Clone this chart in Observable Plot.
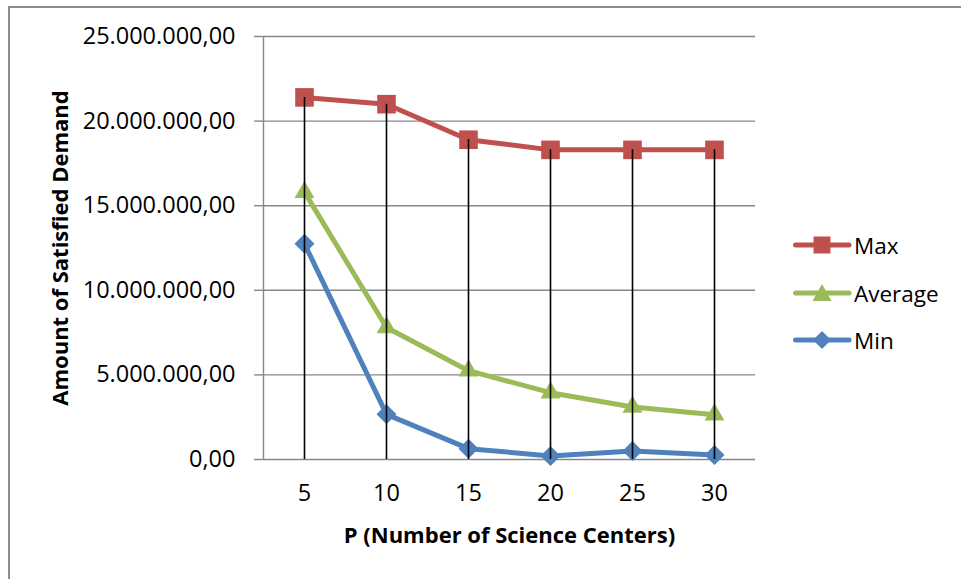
<!DOCTYPE html>
<html>
<head>
<meta charset="utf-8">
<script src="https://cdn.jsdelivr.net/npm/d3@7"></script>
<script src="https://cdn.jsdelivr.net/npm/@observablehq/plot@0.6"></script>
<style>
  html, body { margin: 0; padding: 0; background: white; }
  #wrap { position: relative; width: 961px; height: 579px; overflow: hidden; font-family: "Open Sans", sans-serif; }
  #border { position: absolute; left: 8px; top: 6px; width: 1000px; height: 1000px; border-top: 2px solid #8c8c8c; border-left: 2px solid #8c8c8c; pointer-events: none; }
  #legend { position: absolute; left: 793px; top: 0; }
  .row { position: absolute; left: 0; display: flex; align-items: center; height: 26px; white-space: nowrap; }
  .row span { font-size: 22.5px; margin-left: 2px; color: #000; }
</style>
</head>
<body>
<div id="wrap"></div>
<script>
const categories = [5, 10, 15, 20, 25, 30];
const maxValues = [21400000, 21000000, 18900000, 18300000, 18300000, 18300000];
const averageValues = [15800000, 7800000, 5250000, 3950000, 3100000, 2650000];
const minValues = [12750000, 2670000, 640000, 210000, 500000, 270000];
const yTicks = [0, 5000000, 10000000, 15000000, 20000000, 25000000];
const seriesNames = ["Max", "Average", "Min"];
const seriesColors = ["#C0504D", "#9BBB59", "#4F81BD"];
const seriesSymbols = ["square", "triangle", "diamond2"];
const seriesR = [10.5, 7.4, 9];
const xTitle = "P (Number of Science Centers)";
const yTitle = "Amount of Satisfied Demand";

const locale = d3.formatLocale({decimal: ",", thousands: ".", grouping: [3], currency: ["", ""]});
const fmt = locale.format(",.2f");

const seriesValues = [maxValues, averageValues, minValues];
const series = seriesNames.map((name, k) => categories.map((c, i) => ({P: c, value: seriesValues[k][i], name})));
const maxData = series[0];

const W = 961, H = 579, mL = 263, mR = 206, mT = 36, mB = 120;
const fw = W - mL - mR, fh = H - mT - mB;
const tickFont = 23.5, titleFont = 22;

const marks = [
  Plot.ruleY(yTicks, {stroke: "#878787", strokeWidth: 1.4}),
  Plot.frame({stroke: "#878787", strokeWidth: 1.4, strokeDasharray: `0,${2 * fw + fh},${fh}`}),
  Plot.axisY({ticks: yTicks, tickSize: 9, tickPadding: 19, tickFormat: fmt, stroke: "#878787", strokeWidth: 1.4, label: null, fontSize: tickFont}),
  Plot.axisX({tickSize: 0, tickPadding: 25, label: null, fontSize: tickFont})
];
[2, 1, 0].forEach(k => {
  marks.push(Plot.line(series[k], {x: "P", y: "value", stroke: seriesColors[k], strokeWidth: 5, strokeLinejoin: "round", strokeLinecap: "round"}));
  marks.push(Plot.dot(series[k], {x: "P", y: "value", symbol: () => seriesSymbols[k], fill: seriesColors[k], r: seriesR[k]}));
});
marks.push(Plot.ruleX(maxData, {x: "P", y1: 0, y2: "value", stroke: "#000", strokeWidth: 1.6}));
marks.push(Plot.text([xTitle], {frameAnchor: "bottom", dy: 76, text: d => d, fontWeight: "bold", fontSize: titleFont, lineAnchor: "middle", textAnchor: "middle"}));
marks.push(Plot.text([yTitle], {frameAnchor: "left", dx: -203, rotate: -90, text: d => d, fontWeight: "bold", fontSize: titleFont, lineAnchor: "middle", textAnchor: "middle"}));

const chart = Plot.plot({
  width: W, height: H,
  marginLeft: mL, marginRight: mR, marginTop: mT, marginBottom: mB,
  x: {type: "point", domain: categories, padding: 0.5, label: null},
  y: {type: "linear", domain: [0, 25000000], label: null},
  symbol: {type: "identity"},
  style: {fontFamily: "Open Sans, sans-serif", fontSize: tickFont + "px", background: "white", color: "#000", overflow: "visible"},
  marks
});
const wrap = document.getElementById("wrap");
chart.style.position = "absolute";
chart.style.left = "0";
chart.style.top = "0";
wrap.appendChild(chart);

const border = document.createElement("div");
border.id = "border";
wrap.appendChild(border);

const legend = document.createElement("div");
legend.id = "legend";
const rowY = [245, 293, 340];
seriesNames.forEach((name, k) => {
  const row = document.createElement("div");
  row.className = "row";
  row.style.top = (rowY[k] - 13) + "px";
  const c = seriesColors[k];
  let marker;
  if (k === 0) marker = `<rect x="20.5" y="4.5" width="17" height="17" fill="${c}"/>`;
  else if (k === 1) marker = `<path d="M29,4 L38.5,21 L19.5,21 Z" fill="${c}"/>`;
  else marker = `<path d="M29,4 L38,13 L29,22 L20,13 Z" fill="${c}"/>`;
  row.innerHTML = `<svg width="59" height="26"><line x1="2.5" y1="13" x2="56" y2="13" stroke="${c}" stroke-width="5" stroke-linecap="round"/>${marker}</svg><span>${name}</span>`;
  legend.appendChild(row);
});
wrap.appendChild(legend);
</script>
</body>
</html>
